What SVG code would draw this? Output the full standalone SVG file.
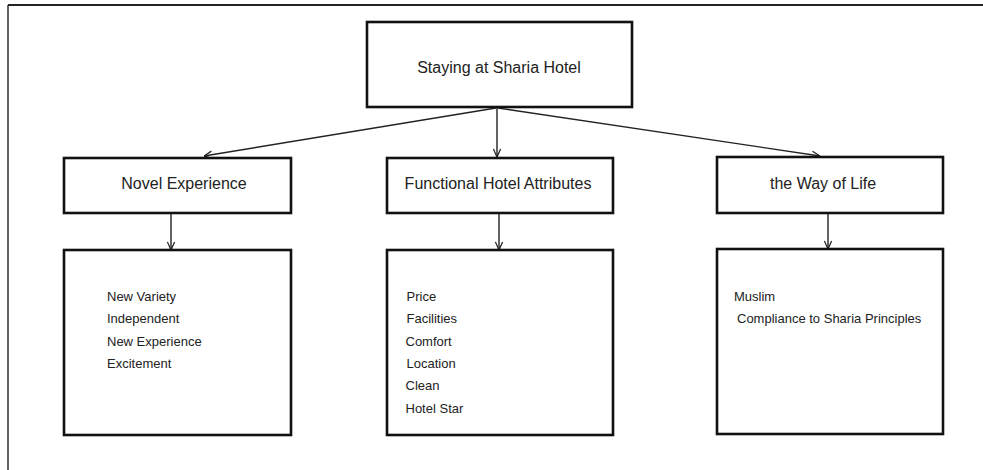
<svg xmlns="http://www.w3.org/2000/svg" width="983" height="470" viewBox="0 0 983 470">
<style>
.box{fill:#fff;stroke:#111;stroke-width:2.6}
.head{font-family:"Liberation Sans",Arial,sans-serif;font-size:16px;fill:#222;text-anchor:middle}
.item{font-family:"Liberation Sans",Arial,sans-serif;font-size:13px;fill:#222}
.con{stroke:#222;stroke-width:1.4;fill:none;marker-end:url(#arr)}
.frame{stroke:#222;fill:none}
</style>
<defs>
<marker id="arr" viewBox="0 0 10 10" refX="10" refY="5" markerWidth="9" markerHeight="9" markerUnits="userSpaceOnUse" orient="auto">
<path d="M1,1 L10,5 L1,9" fill="none" stroke="#222" stroke-width="1.4"/>
</marker>
</defs>
<rect width="983" height="470" fill="#fff"/>
<line class="frame" x1="8" y1="5" x2="983" y2="5" stroke-width="2"/>
<line class="frame" x1="8" y1="5" x2="8" y2="470" stroke-width="1.4"/>
<g id="connectors">
<line class="con" x1="496" y1="108" x2="204" y2="156"/>
<line class="con" x1="497" y1="108" x2="497" y2="157"/>
<line class="con" x1="498" y1="108" x2="820" y2="156"/>
<line class="con" x1="171" y1="214" x2="171" y2="250"/>
<line class="con" x1="499" y1="214" x2="499" y2="250"/>
<line class="con" x1="828" y1="214" x2="828" y2="249"/>
</g>
<g id="root">
<rect class="box" x="367" y="22" width="265" height="85"/>
<text class="head" x="499" y="73">Staying at Sharia Hotel</text>
</g>
<g id="novel">
<rect class="box" x="64" y="158" width="227" height="55"/>
<text class="head" x="184" y="189">Novel Experience</text>
</g>
<g id="functional">
<rect class="box" x="387" y="158" width="226" height="55"/>
<text class="head" x="498" y="189">Functional Hotel Attributes</text>
</g>
<g id="wayoflife">
<rect class="box" x="717" y="157" width="226" height="56"/>
<text class="head" x="823" y="189">the Way of Life</text>
</g>
<g id="novel-items">
<rect class="box" x="64" y="250" width="227" height="185"/>
<text class="item" x="107" y="301">New Variety</text>
<text class="item" x="107" y="323">Independent</text>
<text class="item" x="107" y="345.5">New Experience</text>
<text class="item" x="107" y="368">Excitement</text>
</g>
<g id="functional-items">
<rect class="box" x="387" y="250" width="226" height="185"/>
<text class="item" x="406.5" y="301">Price</text>
<text class="item" x="406.5" y="323">Facilities</text>
<text class="item" x="405.5" y="345.5">Comfort</text>
<text class="item" x="406.5" y="368">Location</text>
<text class="item" x="405.5" y="390">Clean</text>
<text class="item" x="405.5" y="412.5">Hotel Star</text>
</g>
<g id="wayoflife-items">
<rect class="box" x="717" y="249" width="226" height="185"/>
<text class="item" x="734" y="301">Muslim</text>
<text class="item" x="737" y="323">Compliance to Sharia Principles</text>
</g>
</svg>
